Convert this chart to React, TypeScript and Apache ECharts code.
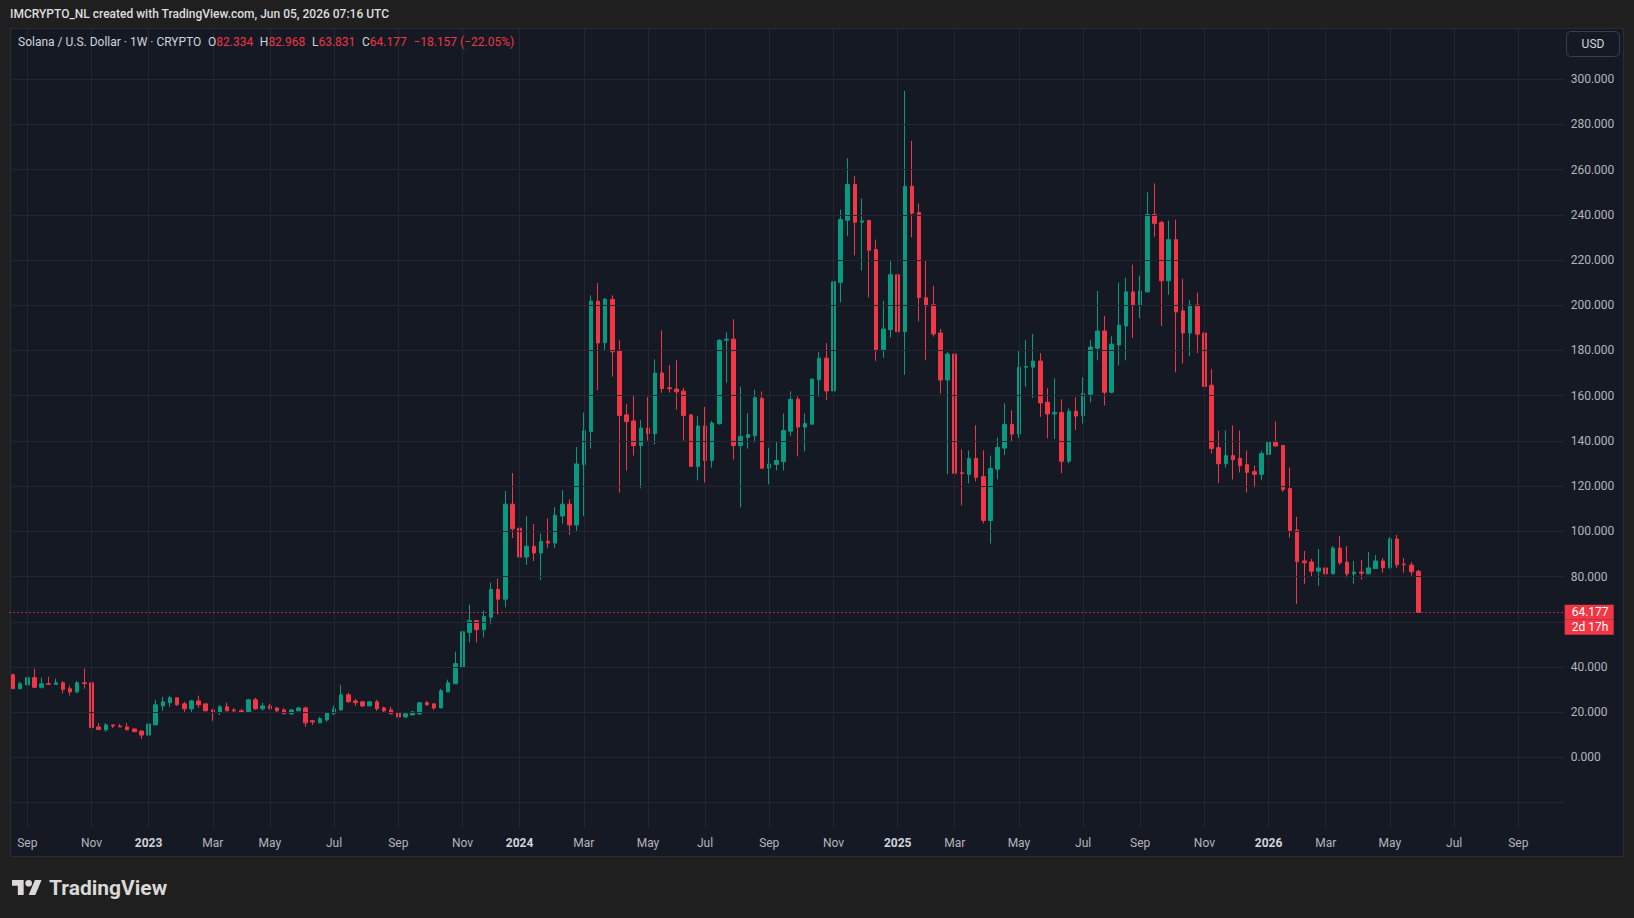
import React, { useEffect, useRef } from "react";
import * as echarts from "echarts";

// ---------- data ----------
const FIRST_WEEK_UTC = Date.UTC(2022, 7, 22); // Monday, Aug 22 2022
const SLOTS = 218; // weekly slots on the time axis (incl. empty future weeks)
const MONTHS = ["Jan", "Feb", "Mar", "Apr", "May", "Jun", "Jul", "Aug", "Sep", "Oct", "Nov", "Dec"];

const opens = [
  36.6, 30.4, 32.1, 35.3, 31.0, 32.6, 32.3, 33.0, 30.4, 29.0, 33.0, 33.0, 13.5, 12.2, 14.4, 13.9, 13.5, 12.6, 11.7, 9.9,
  14.4, 22.8, 24.2, 26.4, 23.7, 21.5, 25.0, 23.7, 21.0, 20.1, 22.4, 21.0, 20.6, 20.1, 25.5, 21.5, 22.8, 21.9, 21.0, 19.3,
  20.6, 21.9, 16.2, 15.3, 16.6, 19.3, 21.0, 27.7, 25.0, 24.6, 22.8, 24.6, 21.9, 21.0, 19.7, 17.9, 18.8, 19.3, 24.2, 23.7,
  21.9, 29.0, 32.6, 40.0, 55.3, 60.5, 56.5, 62.0, 74.3, 70.0, 112.0, 101.4, 88.6, 93.4, 90.4, 95.6, 94.8, 106.8, 112.0, 102.8,
  129.5, 144.2, 201.8, 183.4, 202.6, 179.7, 151.5, 148.8, 137.9, 145.7, 143.2, 170.0, 163.5, 162.9, 162.0, 151.5, 128.7, 146.6, 131.3, 147.6,
  184.5, 185.0, 137.9, 141.5, 142.3, 158.8, 127.9, 129.6, 130.9, 144.3, 158.4, 146.1, 147.4, 167.0, 176.6, 162.1, 210.1, 237.6, 253.4, 236.7,
  237.5, 224.6, 180.3, 189.2, 213.5, 188.3, 252.6, 241.0, 203.3, 200.2, 187.7, 166.9, 178.4, 125.9, 125.2, 132.2, 124.2, 104.8, 127.5, 136.8,
  147.3, 143.0, 172.6, 172.6, 175.3, 157.1, 151.9, 152.6, 131.0, 153.1, 151.2, 160.6, 181.0, 188.6, 161.5, 182.4, 190.8, 205.9, 200.1, 205.9,
  240.1, 236.6, 210.8, 229.0, 197.5, 187.7, 200.1, 187.7, 164.6, 137.0, 129.9, 133.5, 132.3, 129.5, 126.4, 125.2, 134.0, 139.7, 138.0, 118.9,
  100.6, 86.9, 86.4, 82.4, 83.8, 81.2, 92.6, 86.4, 81.2, 82.0, 81.2, 83.5, 86.9, 83.9, 96.6, 85.5, 85.1, 82.334,
];

const highs = [
  37.0, 33.5, 36.1, 39.3, 35.3, 35.7, 34.8, 33.8, 31.7, 33.8, 39.3, 33.5, 15.3, 15.3, 14.4, 14.8, 15.3, 12.6, 11.7, 15.3,
  25.5, 26.8, 27.3, 26.4, 24.6, 25.5, 27.3, 23.7, 21.5, 23.3, 24.2, 21.9, 21.5, 25.9, 26.4, 24.2, 23.7, 22.4, 21.9, 21.5,
  22.4, 22.4, 16.6, 17.9, 20.1, 22.8, 32.1, 28.6, 25.9, 25.0, 25.0, 25.5, 22.4, 22.4, 21.0, 19.7, 20.6, 24.6, 25.0, 23.7,
  30.4, 34.4, 46.8, 63.3, 67.6, 60.9, 64.9, 77.4, 79.1, 117.8, 125.8, 116.4, 106.7, 103.1, 99.1, 105.8, 110.7, 118.2, 114.2, 137.3,
  152.5, 204.4, 209.8, 203.2, 204.4, 184.5, 156.3, 160.3, 149.2, 159.4, 176.1, 188.9, 173.5, 175.7, 163.5, 151.9, 151.0, 155.0, 148.8, 185.0,
  188.0, 193.8, 163.9, 152.3, 162.6, 161.9, 137.0, 139.7, 152.1, 161.9, 159.7, 152.1, 167.7, 179.3, 183.2, 215.2, 242.3, 265.0, 257.0, 247.2,
  237.5, 229.0, 201.9, 219.7, 223.2, 294.8, 272.7, 245.0, 219.7, 208.6, 189.5, 179.3, 178.8, 136.2, 135.8, 146.9, 135.8, 133.5, 141.5, 156.6,
  153.5, 179.7, 184.6, 187.3, 178.8, 163.3, 167.7, 158.4, 154.4, 159.3, 168.1, 184.6, 206.3, 195.2, 186.3, 209.9, 212.1, 217.9, 213.0, 249.9,
  253.9, 237.4, 237.4, 237.9, 211.7, 202.3, 205.5, 189.0, 171.7, 144.6, 144.6, 146.8, 144.6, 135.7, 129.1, 135.7, 143.7, 148.6, 138.0, 128.2,
  106.4, 91.3, 87.8, 92.2, 94.0, 93.5, 98.0, 93.5, 86.9, 87.3, 90.9, 89.5, 88.2, 97.5, 98.4, 88.2, 86.4, 82.968,
];

const lows = [
  30.4, 30.4, 31.0, 31.0, 30.4, 32.3, 32.3, 28.3, 27.4, 28.3, 30.4, 12.8, 12.3, 11.4, 13.0, 13.5, 12.2, 11.4, 8.2, 9.9,
  14.4, 20.6, 22.4, 22.8, 20.1, 20.1, 21.9, 20.6, 16.2, 18.8, 20.6, 19.7, 20.1, 20.1, 21.0, 20.6, 21.5, 20.1, 19.3, 18.8,
  20.6, 13.5, 14.4, 15.3, 15.7, 18.8, 20.6, 24.2, 22.8, 22.4, 22.8, 20.6, 19.7, 19.3, 17.9, 17.5, 18.8, 18.8, 22.8, 21.0,
  21.9, 29.0, 32.6, 39.3, 50.9, 50.9, 53.1, 58.9, 63.3, 66.4, 97.1, 84.6, 85.1, 86.8, 78.4, 92.6, 92.6, 103.3, 98.4, 100.2,
  106.8, 136.6, 162.4, 180.1, 168.4, 117.2, 126.9, 133.5, 119.0, 140.1, 138.4, 161.3, 161.3, 153.8, 140.1, 128.7, 122.5, 121.6, 128.2, 147.2,
  165.7, 131.8, 110.6, 136.6, 139.3, 127.9, 120.8, 126.9, 126.9, 142.1, 133.2, 135.4, 147.0, 159.4, 158.1, 155.0, 201.2, 230.5, 222.1, 215.4,
  203.4, 175.4, 176.7, 185.6, 182.1, 169.2, 230.1, 192.8, 175.7, 186.1, 160.8, 125.2, 125.2, 111.5, 121.2, 122.1, 103.5, 94.6, 123.0, 133.7,
  139.9, 141.2, 163.9, 159.0, 150.6, 141.2, 140.8, 125.7, 130.1, 144.8, 147.7, 157.0, 175.7, 155.7, 161.0, 173.4, 175.7, 185.5, 194.3, 205.9,
  230.3, 190.8, 204.6, 170.3, 174.3, 177.5, 178.8, 145.9, 134.4, 121.5, 128.1, 122.8, 126.0, 117.2, 119.4, 122.6, 133.2, 137.7, 117.5, 97.2,
  67.9, 76.8, 79.9, 75.9, 80.4, 81.2, 85.2, 79.5, 76.8, 78.6, 81.2, 83.5, 81.7, 83.5, 83.9, 81.7, 80.4, 63.831,
];

const closes = [
  30.4, 32.6, 35.3, 31.0, 32.6, 32.3, 33.0, 30.1, 29.0, 33.0, 32.7, 13.2, 12.3, 14.4, 13.9, 13.5, 12.2, 11.4, 9.9, 14.8,
  23.3, 24.6, 26.4, 23.3, 21.5, 25.0, 23.3, 20.6, 20.1, 22.4, 20.6, 20.6, 20.1, 25.5, 21.5, 22.8, 21.5, 20.6, 19.3, 21.0,
  21.9, 15.3, 15.7, 17.1, 19.7, 21.5, 27.7, 24.6, 24.2, 22.8, 24.6, 21.5, 20.6, 19.3, 17.9, 19.3, 20.1, 24.2, 23.3, 21.9,
  29.5, 33.0, 41.5, 55.6, 60.5, 56.5, 62.3, 74.3, 70.0, 112.0, 101.1, 88.6, 93.4, 90.4, 95.6, 94.8, 107.1, 112.0, 102.8, 129.8,
  144.5, 201.8, 183.3, 202.6, 179.4, 151.2, 148.5, 137.9, 145.7, 143.2, 170.0, 163.1, 163.1, 161.7, 151.2, 128.7, 146.6, 131.3, 147.9, 184.5,
  185.0, 137.9, 141.9, 142.8, 159.1, 127.9, 129.8, 131.3, 144.6, 158.4, 146.1, 147.7, 167.3, 176.6, 162.1, 210.4, 237.9, 253.4, 236.7, 237.3,
  224.3, 180.3, 189.5, 213.5, 188.3, 252.6, 240.7, 203.4, 199.7, 187.3, 166.9, 178.4, 125.7, 125.6, 132.2, 123.9, 104.8, 127.8, 137.1, 147.3,
  143.0, 172.6, 172.9, 175.3, 156.8, 151.9, 152.6, 131.0, 153.1, 151.0, 161.0, 181.5, 188.6, 161.5, 182.8, 191.2, 205.9, 200.1, 206.3, 240.1,
  236.1, 210.8, 229.0, 197.0, 187.7, 200.1, 187.2, 164.1, 136.6, 129.9, 133.5, 131.7, 129.0, 126.1, 125.2, 134.4, 139.7, 137.7, 118.4, 100.3,
  86.6, 86.1, 82.4, 83.8, 81.2, 92.6, 86.1, 81.2, 82.0, 81.5, 83.8, 86.9, 83.9, 96.6, 85.2, 85.2, 82.1, 64.177,
];

const priceTicks = [-20, 0, 20, 40, 60, 80, 100, 120, 140, 160, 180, 200, 220, 240, 260, 280, 300];
const hiddenTickLabels = [-20, 60]; // -20 is unlabeled; 60 sits under the last-price tag
const lastPrice = 64.177;
const countdown = "2d 17h";
const headerText = "IMCRYPTO_NL created with TradingView.com, Jun 05, 2026 07:16 UTC";
const symbolTitle = "Solana / U.S. Dollar · 1W · CRYPTO";
const ohlcLabels = ["O", "H", "L", "C"];
const ohlcValues = ["82.334", "82.968", "63.831", "64.177"];
const changeText = "−18.157 (−22.05%)";

// ---------- style ----------
const UP = "#089981";
const DOWN = "#F23645";
const PANE_BG = "#151924";
const OUTER_BG = "#1f1f1f";
const GRID = "#232733";
const AXIS_TEXT = "#b2b5be";
const FONT = "Roboto, 'Noto Sans', sans-serif";

const TV_LOGO =
  "M14 22H7V11H0V4h14v18zM28 22h-8l7.5-18h8L28 22zM16 8a4 4 0 1 0 8 0a4 4 0 1 0 -8 0z";
let logoRegistered = false;
function ensureLogo() {
  if (logoRegistered) return;
  echarts.graphic.registerShape("tvlogo", echarts.graphic.extendPath(TV_LOGO, {}) as any);
  logoRegistered = true;
}

function weekCategories(): string[] {
  const out: string[] = [];
  for (let i = 0; i < SLOTS; i++) {
    const d = new Date(FIRST_WEEK_UTC + i * 7 * 86400000);
    out.push(d.toISOString().slice(0, 10));
  }
  return out;
}

function isTick(s: string): boolean {
  const m = +s.slice(5, 7) - 1;
  const d = +s.slice(8, 10);
  return d <= 7 && m % 2 === 0;
}

export default function App() {
  const ref = useRef<HTMLDivElement>(null);

  useEffect(() => {
    if (!ref.current) return;
    ensureLogo();
    const chart = echarts.init(ref.current, undefined, { renderer: "svg" });
    const cats = weekCategories();
    const tickCats = cats.filter(isTick);
    const candles = opens.map((o, i) => [o, closes[i], lows[i], highs[i]]);

    const legendRich =
      `{t|${symbolTitle}}  ` +
      ohlcLabels.map((k, i) => `{k|${k}}{v|${ohlcValues[i]}}`).join("  ") +
      `  {v|${changeText}}`;

    const tagLabel = (text: string, dy: number) => ({
      show: true,
      position: "end",
      distance: 0,
      offset: [0, dy],
      backgroundColor: DOWN,
      color: "#ffffff",
      fontSize: 12,
      fontFamily: FONT,
      lineHeight: 15,
      width: 36,
      align: "left",
      padding: [0, 6, 0, 7],
      formatter: () => text,
    });

    const option: any = {
      animation: false,
      backgroundColor: OUTER_BG,
      textStyle: { fontFamily: FONT },
      grid: { left: 9.47, top: 28, width: 1555.2, height: 800, containLabel: false },
      xAxis: {
        type: "category",
        data: cats,
        boundaryGap: true,
        axisLine: { show: false },
        axisTick: { show: false },
        splitLine: { show: false },
        axisLabel: {
          interval: (_i: number, v: string) => isTick(v),
          margin: 9,
          formatter: (v: string) => {
            const m = +v.slice(5, 7) - 1;
            return m === 0 ? `{y|${v.slice(0, 4)}}` : `{m|${MONTHS[m]}}`;
          },
          rich: {
            m: { color: AXIS_TEXT, fontSize: 12, fontFamily: FONT },
            y: { color: "#d1d4dc", fontSize: 12, fontWeight: "bold", fontFamily: FONT },
          },
        },
      },
      yAxis: {
        type: "value",
        min: -31.2,
        max: 322.6,
        show: false,
        splitLine: { show: false },
      },
      series: [
        {
          type: "line",
          data: [],
          z: 1,
          silent: true,
          markLine: {
            silent: true,
            symbol: ["none", "none"],
            animation: false,
            lineStyle: { color: GRID, width: 1, type: "solid" },
            label: {
              position: "end",
              distance: 6,
              color: AXIS_TEXT,
              fontSize: 12,
              fontFamily: FONT,
              formatter: (p: any) => Number(p.value).toFixed(3),
            },
            emphasis: { disabled: true },
            data: [
              ...priceTicks.map((v) => ({
                yAxis: v,
                label: { show: !hiddenTickLabels.includes(v) },
              })),
              ...tickCats.map((c) => ({ xAxis: c, label: { show: false } })),
            ],
          },
        },
        {
          type: "candlestick",
          name: "SOLUSD",
          data: candles,
          z: 3,
          barWidth: 4,
          itemStyle: {
            color: UP,
            color0: DOWN,
            borderColor: UP,
            borderColor0: DOWN,
            borderWidth: 1,
          },
        },
        {
          type: "line",
          data: [],
          z: 4,
          silent: true,
          markLine: {
            silent: true,
            symbol: ["none", "none"],
            animation: false,
            lineStyle: { color: DOWN, width: 1, type: [1, 3] },
            emphasis: { disabled: true },
            data: [
              { yAxis: lastPrice, label: tagLabel(lastPrice.toFixed(3), 0) },
              { yAxis: lastPrice, label: tagLabel(countdown, 15) },
            ],
          },
        },
      ],
      graphic: [
        {
          type: "rect",
          z: -100,
          silent: true,
          shape: { x: 10.5, y: 28.5, width: 1613, height: 828 },
          style: { fill: PANE_BG, stroke: "#2a2c33", lineWidth: 1 },
        },
        {
          type: "text",
          x: 10,
          y: 14,
          silent: true,
          style: {
            text: headerText,
            fill: "#dedede",
            font: `500 12px ${FONT}`,
            verticalAlign: "middle",
          },
        },
        {
          type: "text",
          x: 18,
          y: 42,
          z: 10,
          silent: true,
          style: {
            text: legendRich,
            verticalAlign: "middle",
            rich: {
              t: { fill: "#d1d4dc", fontSize: 12, fontFamily: FONT },
              k: { fill: "#d1d4dc", fontSize: 12, fontFamily: FONT },
              v: { fill: DOWN, fontSize: 12, fontFamily: FONT },
            },
          },
        },
        {
          type: "rect",
          z: 10,
          silent: true,
          shape: { x: 1566.5, y: 31.5, width: 53, height: 25, r: 4 },
          style: { fill: PANE_BG, stroke: "#3a3e4a", lineWidth: 1 },
        },
        {
          type: "text",
          z: 11,
          x: 1593,
          y: 44,
          silent: true,
          style: {
            text: "USD",
            fill: "#d1d4dc",
            font: `12px ${FONT}`,
            align: "center",
            verticalAlign: "middle",
          },
        },
        {
          type: "tvlogo",
          x: 12,
          y: 876.7,
          scaleX: 0.833,
          scaleY: 0.833,
          silent: true,
          style: { fill: "#dbd8d8" },
        },
        {
          type: "text",
          x: 49,
          y: 888,
          silent: true,
          style: {
            text: "TradingView",
            fill: "#dbd8d8",
            font: `bold 21px ${FONT}`,
            verticalAlign: "middle",
          },
        },
      ],
    };

    chart.setOption(option);
    return () => chart.dispose();
  }, []);

  return (
    <div
      ref={ref}
      style={{ position: "absolute", left: 0, top: 0, width: 1634, height: 918 }}
    />
  );
}
